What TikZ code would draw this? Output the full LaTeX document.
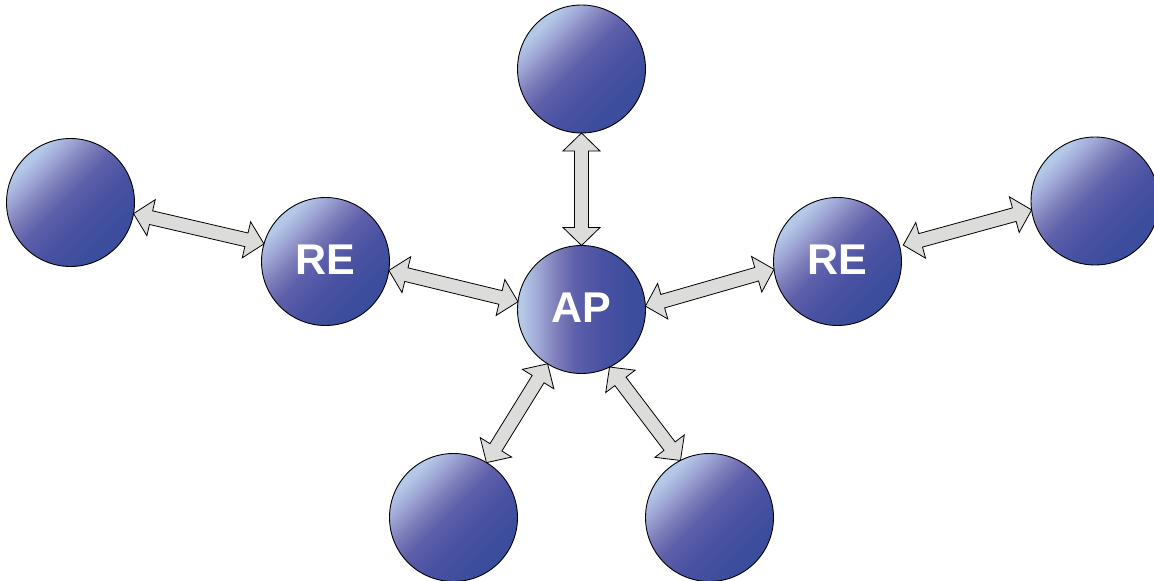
\documentclass[tikz,border=0pt]{standalone}
\usepackage{fontspec}
\setmainfont{Liberation Sans}
\usetikzlibrary{calc}
\definecolor{cLight}{HTML}{B4C8E8}
\definecolor{cMidZ}{HTML}{A0A8D6}
\definecolor{cMidA}{HTML}{7F7FBB}
\definecolor{cMidB}{HTML}{5E60AB}
\definecolor{cMidC}{HTML}{4A52A2}
\definecolor{cDark}{HTML}{3B4D9C}
\definecolor{arrowgrey}{HTML}{DCDCDA}
\pgfdeclarehorizontalshading{ballshade}{100bp}{color(0bp)=(cLight); color(27bp)=(cLight); color(33bp)=(cMidZ); color(40bp)=(cMidA); color(47.5bp)=(cMidB); color(57.5bp)=(cMidC); color(70bp)=(cDark); color(100bp)=(cDark)}
\tikzset{
  ball/.style={circle,draw=black,line width=0.9pt,minimum size=128pt,inner sep=0pt,outer sep=0pt,
    shading=ballshade,shading angle=-45,text=white,text height=30.8pt,text depth=5pt,
    font=\fontsize{43}{43}\selectfont\bfseries},
  apball/.style={ball,shading angle=0},
  twoway/.style={draw=black,fill=arrowgrey,line width=0.8pt,line join=miter},
}
\newcommand{\twowayarrow}[2]{%
  \draw[twoway] (#1)
    -- ($($(#1)!18pt!(#2)$)!18.5pt!90:(#2)$)
    -- ($($(#1)!18pt!(#2)$)!7pt!90:(#2)$)
    -- ($($(#2)!18pt!(#1)$)!7pt!-90:(#1)$)
    -- ($($(#2)!18pt!(#1)$)!18.5pt!-90:(#1)$)
    -- (#2)
    -- ($($(#2)!18pt!(#1)$)!18.5pt!90:(#1)$)
    -- ($($(#2)!18pt!(#1)$)!7pt!90:(#1)$)
    -- ($($(#1)!18pt!(#2)$)!7pt!-90:(#2)$)
    -- ($($(#1)!18pt!(#2)$)!18.5pt!-90:(#2)$)
    -- cycle;}
\begin{document}
\begin{tikzpicture}[x=1pt,y=-1pt]
\useasboundingbox (0,0) rectangle (1154,581);
\clip (0,0) rectangle (1154,581);
\node[ball] (top) at (581.5,69) {};
\node[ball] (farleft) at (70.5,202.5) {};
\node[ball] (reL) at (325.5,261.5) {RE};
\node[apball] (ap) at (581.5,309.5) {AP};
\node[ball] (reR) at (837.5,261.5) {RE};
\node[ball] (farright) at (1095,201) {};
\node[ball] (botL) at (453.5,517.5) {};
\node[ball] (botR) at (709.5,517.5) {};
\coordinate (reRgap) at ($(reR)+(65.8,-16.4)$);
\twowayarrow{top.270}{ap.90}
\twowayarrow{farleft.350.5}{reL.164}
\twowayarrow{reL.352}{ap.173.6}
\twowayarrow{ap.3.1}{reR.187.9}
\twowayarrow{reRgap}{farright.188.1}
\twowayarrow{ap.238.7}{botL.59.3}
\twowayarrow{ap.296.8}{botR.117.9}
\end{tikzpicture}
\end{document}
